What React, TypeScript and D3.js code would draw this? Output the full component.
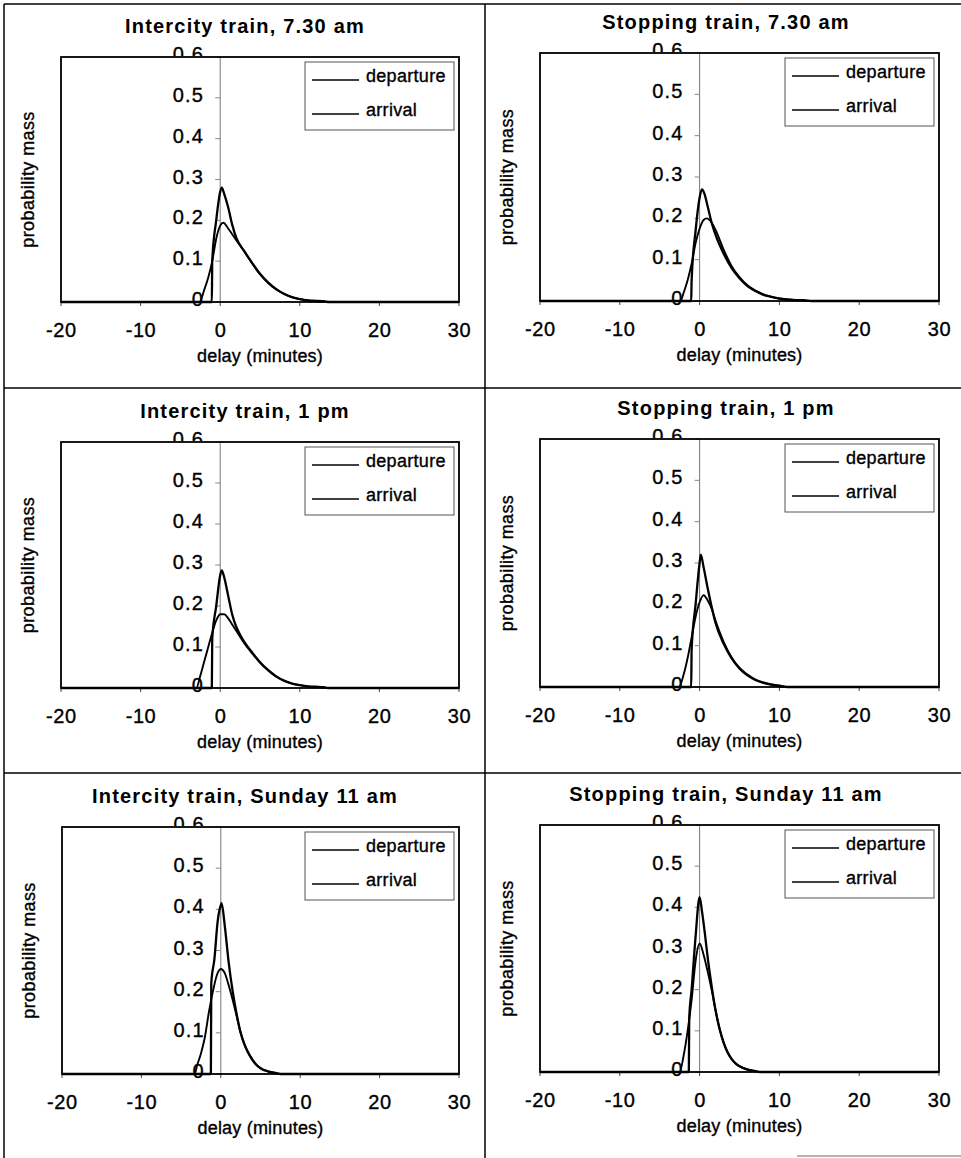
import React from "react";
import * as d3 from "d3";

// ---------- text / categories ----------
const panelTitles = [
  "Intercity train, 7.30 am",
  "Stopping train, 7.30 am",
  "Intercity train, 1 pm",
  "Stopping train, 1 pm",
  "Intercity train, Sunday 11 am",
  "Stopping train, Sunday 11 am",
];
const seriesNames = ["departure", "arrival"];
const xTicks = [-20, -10, 0, 10, 20, 30];
const xTickLabels = ["-20", "-10", "0", "10", "20", "30"];
const yTicks = [0, 0.1, 0.2, 0.3, 0.4, 0.5, 0.6];
const yTickLabels = ["0", "0.1", "0.2", "0.3", "0.4", "0.5", "0.6"];
const xTitle = "delay (minutes)";
const yTitle = "probability mass";

// ---------- data: delay (minutes) vs probability mass ----------
// Intercity, 7.30 am
const icAmDepX = [-20, -1.05, -1, -0.5, 0, 0.2, 0.5, 1, 1.5, 2, 3, 4, 5, 6, 7, 8, 9, 10, 11, 12, 13, 13.5, 30];
const icAmDepY = [0, 0, 0.1, 0.2, 0.27, 0.28, 0.265, 0.232, 0.19, 0.158, 0.125, 0.096, 0.069, 0.048, 0.032, 0.02, 0.012, 0.007, 0.004, 0.003, 0.002, 0, 0];
const icAmArrX = [-20, -2.6, -2, -1.5, -1, -0.5, 0, 0.4, 1, 2, 3, 4, 5, 6, 7, 8, 9, 10, 11, 12, 13, 14, 30];
const icAmArrY = [0, 0, 0.03, 0.06, 0.1, 0.155, 0.187, 0.194, 0.18, 0.152, 0.125, 0.095, 0.068, 0.047, 0.031, 0.02, 0.012, 0.007, 0.004, 0.002, 0.001, 0, 0];
// Stopping, 7.30 am
const stAmDepX = [-20, -1.05, -1, -0.5, 0, 0.3, 0.6, 1, 1.5, 2, 3, 4, 5, 6, 7, 8, 9, 10, 11, 12, 13, 14, 30];
const stAmDepY = [0, 0, 0.05, 0.17, 0.25, 0.27, 0.26, 0.23, 0.19, 0.16, 0.115, 0.08, 0.055, 0.036, 0.024, 0.015, 0.01, 0.006, 0.004, 0.002, 0.002, 0, 0];
const stAmArrX = [-20, -2.4, -2, -1.5, -1, -0.5, 0, 0.5, 0.9, 1.5, 2, 3, 4, 5, 6, 7, 8, 9, 10, 11, 12, 14, 30];
const stAmArrY = [0, 0, 0.02, 0.05, 0.09, 0.14, 0.175, 0.196, 0.2, 0.19, 0.172, 0.125, 0.085, 0.058, 0.038, 0.025, 0.016, 0.01, 0.006, 0.004, 0.002, 0, 0];
// Intercity, 1 pm
const icPmDepX = [-20, -1.05, -1, -0.5, 0, 0.2, 0.5, 1, 1.5, 2, 2.5, 3, 4, 5, 6, 7, 8, 9, 10, 11, 12, 13, 13.5, 30];
const icPmDepY = [0, 0, 0.12, 0.2, 0.275, 0.287, 0.27, 0.225, 0.18, 0.15, 0.13, 0.113, 0.087, 0.063, 0.044, 0.029, 0.018, 0.011, 0.007, 0.004, 0.003, 0.002, 0, 0];
const icPmArrX = [-20, -3, -2.5, -2, -1.5, -1, -0.5, 0, 0.5, 1, 1.5, 2, 3, 4, 5, 6, 7, 8, 9, 10, 11, 12, 13, 13.5, 30];
const icPmArrY = [0, 0, 0.03, 0.065, 0.1, 0.135, 0.165, 0.18, 0.18, 0.17, 0.155, 0.14, 0.11, 0.085, 0.062, 0.043, 0.028, 0.018, 0.011, 0.007, 0.004, 0.002, 0.001, 0, 0];
// Stopping, 1 pm
const stPmDepX = [-20, -1.05, -1, -0.5, 0, 0.15, 0.5, 1, 1.5, 2, 3, 4, 5, 6, 7, 8, 9, 10, 11, 30];
const stPmDepY = [0, 0, 0.09, 0.2, 0.3, 0.32, 0.29, 0.24, 0.195, 0.155, 0.105, 0.07, 0.045, 0.028, 0.017, 0.01, 0.006, 0.003, 0, 0];
const stPmArrX = [-20, -2.6, -2, -1.5, -1, -0.5, 0, 0.5, 1, 1.5, 2, 3, 4, 5, 6, 7, 8, 9, 10, 11, 30];
const stPmArrY = [0, 0, 0.03, 0.07, 0.12, 0.17, 0.205, 0.222, 0.21, 0.19, 0.16, 0.11, 0.072, 0.046, 0.03, 0.018, 0.011, 0.006, 0.003, 0, 0];
// Intercity, Sunday 11 am
const icSunDepX = [-20, -1.25, -1.2, -0.8, -0.4, 0, 0.1, 0.5, 1, 1.5, 2, 2.5, 3, 3.5, 4, 4.5, 5, 6, 7, 7.5, 30];
const icSunDepY = [0, 0, 0.22, 0.28, 0.37, 0.41, 0.415, 0.36, 0.27, 0.2, 0.145, 0.1, 0.07, 0.05, 0.034, 0.022, 0.014, 0.006, 0.002, 0, 0];
const icSunArrX = [-20, -3.3, -3, -2.5, -2, -1.5, -1, -0.5, 0, 0.5, 1, 1.5, 2, 2.5, 3, 3.5, 4, 4.5, 5, 6, 7, 7.5, 30];
const icSunArrY = [0, 0, 0.02, 0.05, 0.09, 0.15, 0.2, 0.24, 0.255, 0.245, 0.215, 0.18, 0.14, 0.1, 0.072, 0.05, 0.034, 0.022, 0.014, 0.006, 0.002, 0, 0];
// Stopping, Sunday 11 am
const stSunDepX = [-20, -1.35, -1.3, -1, -0.5, 0, 0.3, 0.7, 1, 1.5, 2, 2.5, 3, 3.5, 4, 4.5, 5, 6, 7, 7.5, 30];
const stSunDepY = [0, 0, 0.13, 0.2, 0.33, 0.425, 0.39, 0.33, 0.28, 0.21, 0.15, 0.105, 0.072, 0.048, 0.032, 0.021, 0.014, 0.006, 0.002, 0, 0];
const stSunArrX = [-20, -2.5, -2, -1.5, -1, -0.5, 0, 0.5, 1, 1.5, 2, 2.5, 3, 3.5, 4, 4.5, 5, 6, 7, 7.5, 30];
const stSunArrY = [0, 0, 0.04, 0.1, 0.175, 0.27, 0.312, 0.285, 0.245, 0.2, 0.15, 0.105, 0.072, 0.048, 0.032, 0.021, 0.014, 0.006, 0.002, 0, 0];

const panelData = [
  [[icAmDepX, icAmDepY], [icAmArrX, icAmArrY]],
  [[stAmDepX, stAmDepY], [stAmArrX, stAmArrY]],
  [[icPmDepX, icPmDepY], [icPmArrX, icPmArrY]],
  [[stPmDepX, stPmDepY], [stPmArrX, stPmArrY]],
  [[icSunDepX, icSunDepY], [icSunArrX, icSunArrY]],
  [[stSunDepX, stSunDepY], [stSunArrX, stSunArrY]],
];

// ---------- layout ----------
const W = 961;
const H = 1158;
const plotRects = [
  { x: 61, y: 57, w: 398, h: 245 },
  { x: 540, y: 53, w: 399, h: 248 },
  { x: 61, y: 442, w: 398, h: 246 },
  { x: 540, y: 439, w: 399, h: 248 },
  { x: 62, y: 827, w: 397, h: 247 },
  { x: 540, y: 825, w: 399, h: 247 },
];
const titleCenters = [244, 725, 244, 725, 244, 725];
const FONT = "'Liberation Sans', Arial, Helvetica, sans-serif";
const seriesWidths = [2.3, 1.9];
const INK = 0.35; // scan-like heavier strokes on regular text

function Panel({ idx }: { idx: number }) {
  const r = plotRects[idx];
  const x = d3.scaleLinear().domain([-20, 30]).range([r.x, r.x + r.w]);
  const y = d3.scaleLinear().domain([0, 0.6]).range([r.y + r.h, r.y]);
  const line = d3
    .line<[number, number]>()
    .x((d) => x(d[0]))
    .y((d) => y(d[1]))
    .curve(d3.curveMonotoneX);
  const x0 = x(0);
  const clipId = `clip06-${idx}`;
  const legW = 149;
  const legH = 68;
  const legX = r.x + r.w - 5 - legW;
  const legY = r.y + 5;
  const txt = { fontFamily: FONT, fill: "#000", stroke: "#000", strokeWidth: INK };
  return (
    <g>
      <defs>
        <clipPath id={clipId}>
          <rect x={r.x - 60} y={r.y - 30} width={120 + r.w} height={29} />
        </clipPath>
      </defs>
      {/* title */}
      <text
        x={titleCenters[idx] + 1}
        y={r.y - 24}
        textAnchor="middle"
        fontFamily={FONT}
        fontWeight="bold"
        fontSize={20}
        letterSpacing={1.2}
        fill="#000"
      >
        {panelTitles[idx]}
      </text>
      {/* plot area */}
      <rect x={r.x} y={r.y} width={r.w} height={r.h} fill="#fff" stroke="none" />
      {/* y axis at x=0 */}
      <line x1={x0} x2={x0} y1={r.y} y2={r.y + r.h} stroke="#777" strokeWidth={1} />
      {yTicks.map((t, i) => (
        <g key={`yt${i}`}>
          <line x1={x0 - 5} x2={x0} y1={y(t)} y2={y(t)} stroke="#888" strokeWidth={1} />
          <text
            {...txt}
            x={x0 - 16}
            y={y(t) + 4}
            textAnchor="end"
            fontSize={20}
            letterSpacing={1.2}
            clipPath={t === 0.6 ? `url(#${clipId})` : undefined}
          >
            {yTickLabels[i]}
          </text>
        </g>
      ))}
      {/* x ticks */}
      {xTicks.map((t, i) => (
        <g key={`xt${i}`}>
          <line x1={x(t)} x2={x(t)} y1={r.y + r.h} y2={r.y + r.h + 4} stroke="#444" strokeWidth={1} />
          <text
            {...txt}
            x={x(t) + 0.4}
            y={r.y + r.h + 35}
            textAnchor="middle"
            fontSize={20}
            letterSpacing={0.6}
          >
            {xTickLabels[i]}
          </text>
        </g>
      ))}
      {/* series */}
      {panelData[idx].map((s, si) => {
        const pts = s[0].map((xv, k) => [xv, s[1][k]] as [number, number]);
        return (
          <path
            key={`s${si}`}
            d={line(pts) || ""}
            fill="none"
            stroke="#000"
            strokeWidth={seriesWidths[si]}
            strokeLinejoin="round"
          />
        );
      })}
      {/* frame */}
      <rect x={r.x} y={r.y} width={r.w} height={r.h} fill="none" stroke="#000" strokeWidth={1.8} />
      {/* legend */}
      <rect x={legX} y={legY} width={legW} height={legH} fill="#fff" stroke="#555" strokeWidth={1} />
      {seriesNames.map((nm, si) => {
        const ly = legY + (si === 0 ? 18 : 52);
        return (
          <g key={`lg${si}`}>
            <line x1={legX + 7} x2={legX + 54} y1={ly} y2={ly} stroke="#000" strokeWidth={1.6} />
            <text {...txt} x={legX + 61} y={ly + 2} fontSize={18} letterSpacing={0.3}>
              {nm}
            </text>
          </g>
        );
      })}
      {/* axis titles */}
      <text
        {...txt}
        x={(r.x + r.x + r.w) / 2}
        y={r.y + r.h + 60}
        textAnchor="middle"
        fontSize={18}
        letterSpacing={0.2}
      >
        {xTitle}
      </text>
      <text
        {...txt}
        transform={`translate(${r.x - 27},${r.y + r.h / 2}) rotate(-90)`}
        textAnchor="middle"
        fontSize={18}
        letterSpacing={0.4}
      >
        {yTitle}
      </text>
    </g>
  );
}

export default function App() {
  return (
    <svg
      width={W}
      height={H}
      viewBox={`0 0 ${W} ${H}`}
      style={{ position: "absolute", left: 0, top: 0, background: "#fff" }}
    >
      <rect x={0} y={0} width={W} height={H} fill="#fff" />
      {/* cell grid */}
      <line x1={4} x2={W} y1={4} y2={4} stroke="#000" strokeWidth={1.5} />
      <line x1={4} x2={4} y1={4} y2={H} stroke="#000" strokeWidth={1.5} />
      <line x1={485} x2={485} y1={4} y2={H} stroke="#000" strokeWidth={1.5} />
      <line x1={4} x2={W} y1={388} y2={388} stroke="#000" strokeWidth={1.5} />
      <line x1={4} x2={W} y1={773} y2={773} stroke="#000" strokeWidth={1.5} />
      <line x1={797} x2={W} y1={1156} y2={1156} stroke="#666" strokeWidth={1} />
      {panelTitles.map((_, i) => (
        <Panel key={i} idx={i} />
      ))}
    </svg>
  );
}
